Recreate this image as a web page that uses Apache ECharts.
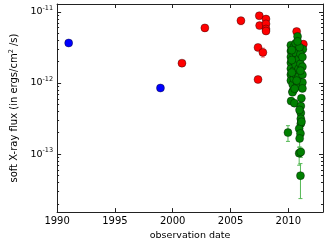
<!DOCTYPE html>
<html><head><meta charset="utf-8">
<script src="https://cdn.jsdelivr.net/npm/echarts@6/dist/echarts.min.js"></script>
<style>html,body{margin:0;padding:0;background:#fff}#c{width:327px;height:246px}</style>
</head><body><div id="c"></div>
<script>
// ---- data ----
const xTicks = [1990, 1995, 2000, 2005, 2010];
const yMajorTicks = [1e-13, 1e-12, 1e-11];
const yMinorTicks = [2e-14,3e-14,4e-14,5e-14,6e-14,7e-14,8e-14,9e-14,
  2e-13,3e-13,4e-13,5e-13,6e-13,7e-13,8e-13,9e-13,
  2e-12,3e-12,4e-12,5e-12,6e-12,7e-12,8e-12,9e-12];

const blueDates = [1991.0, 1998.94];
const blueFlux  = [3.65e-12, 8.5e-13];
const blueLo    = [3.4e-12, 7.9e-13];
const blueHi    = [3.9e-12, 9.1e-13];

const redDates = [2000.8, 2002.78, 2005.9, 2007.49, 2007.52, 2008.07, 2008.07, 2008.07, 2008.07, 2007.38, 2007.8, 2007.38, 2010.72, 2011.3];
const redFlux  = [1.9e-12, 5.95e-12, 7.52e-12, 8.81e-12, 6.41e-12, 7.93e-12, 6.77e-12, 5.74e-12, 5.38e-12, 3.16e-12, 2.69e-12, 1.12e-12, 5.3e-12, 3.51e-12];
const redLo    = [1.75e-12, 5.3e-12, 6.6e-12, 8.1e-12, 5.9e-12, 7.3e-12, 6.2e-12, 5.25e-12, 4.9e-12, 2.9e-12, 2.3e-12, 1.03e-12, 4.85e-12, 3.1e-12];
const redHi    = [2.05e-12, 6.6e-12, 8.4e-12, 9.5e-12, 6.9e-12, 8.6e-12, 7.3e-12, 6.2e-12, 5.85e-12, 3.45e-12, 3.1e-12, 1.22e-12, 5.75e-12, 3.95e-12];

const greenDates = [2010.80, 2011.26, 2010.22, 2010.22, 2010.22, 2010.22, 2010.22, 2010.22, 2010.22, 2010.38,
  2010.47, 2010.47, 2010.47, 2010.47, 2010.47, 2010.64, 2010.64, 2010.64, 2010.64, 2010.72,
  2010.94, 2010.89, 2010.89, 2010.89, 2011.05, 2011.05, 2011.22, 2011.22, 2011.22, 2011.22,
  2011.22, 2010.97, 2010.80, 2011.05, 2010.72, 2010.38, 2010.36, 2010.24, 2010.53, 2011.08,
  2011.08, 2011.08, 2011.08, 2010.94, 2011.13, 2010.97, 2011.14, 2011.05, 2010.98, 2010.94,
  2011.08, 2011.05, 2009.97, 2010.30, 2010.30, 2010.30, 2010.55];
const greenFlux = [4.52e-12, 2.99e-12, 3.40e-12, 2.81e-12, 2.32e-12, 1.92e-12, 1.585e-12, 1.31e-12, 1.08e-12, 9.53e-13,
  3.19e-12, 2.47e-12, 2.04e-12, 1.49e-12, 1.15e-12, 3.62e-12, 2.64e-12, 1.80e-12, 1.31e-12, 8.95e-13,
  9.53e-13, 2.18e-12, 1.585e-12, 1.23e-12, 2.55e-12, 1.86e-12, 2.32e-12, 1.69e-12, 1.31e-12, 1.02e-12,
  8.39e-13, 3.19e-12, 3.85e-12, 1.49e-12, 1.08e-12, 7.63e-13, 7.40e-13, 5.56e-13, 5.21e-13, 4.74e-13,
  3.80e-13, 3.14e-13, 2.68e-13, 2.28e-13, 6.11e-13, 4.18e-13, 2.85e-13, 1.95e-13, 1.66e-13, 1.03e-13,
  1.07e-13, 4.98e-14, 2.01e-13, 2.9e-12, 2.1e-12, 1.4e-12, 8.3e-13];
const greenLo = [4.2e-12, 2.75e-12, 3.15e-12, 2.6e-12, 2.15e-12, 1.77e-12, 1.46e-12, 1.2e-12, 0.99e-12, 8.7e-13,
  2.95e-12, 2.28e-12, 1.88e-12, 1.37e-12, 1.06e-12, 3.35e-12, 2.44e-12, 1.66e-12, 1.2e-12, 8.2e-13,
  8.7e-13, 2.0e-12, 1.46e-12, 1.13e-12, 2.35e-12, 1.71e-12, 2.14e-12, 1.56e-12, 1.2e-12, 0.94e-12,
  7.7e-13, 2.95e-12, 3.55e-12, 1.37e-12, 0.99e-12, 7.0e-13, 6.8e-13, 5.1e-13, 4.8e-13, 4.35e-13,
  3.5e-13, 2.9e-13, 2.45e-13, 2.08e-13, 5.6e-13, 3.85e-13, 2.6e-13, 1.75e-13, 1.26e-13, 6.98e-14,
  9.0e-14, 2.37e-14, 1.51e-13, 2.68e-12, 1.94e-12, 1.29e-12, 7.6e-13];
const greenHi = [4.85e-12, 3.25e-12, 3.65e-12, 3.05e-12, 2.5e-12, 2.08e-12, 1.71e-12, 1.42e-12, 1.17e-12, 1.04e-12,
  3.45e-12, 2.67e-12, 2.2e-12, 1.61e-12, 1.25e-12, 3.9e-12, 2.85e-12, 1.95e-12, 1.42e-12, 9.7e-13,
  1.04e-12, 2.36e-12, 1.71e-12, 1.33e-12, 2.75e-12, 2.01e-12, 2.5e-12, 1.83e-12, 1.42e-12, 1.1e-12,
  9.1e-13, 3.45e-12, 4.15e-12, 1.61e-12, 1.17e-12, 8.3e-13, 8.0e-13, 6.0e-13, 5.65e-13, 5.15e-13,
  4.1e-13, 3.4e-13, 2.9e-13, 2.5e-13, 6.6e-13, 4.5e-13, 3.1e-13, 2.15e-13, 2.0e-13, 1.25e-13,
  1.22e-13, 7.35e-14, 2.51e-13, 3.12e-12, 2.26e-12, 1.51e-12, 9.0e-13];

// ---- chart ----
const FONT = 'DejaVu Sans';
const AX = '#222';
const X_MIN = 1990, X_MAX = 2013, Y_MIN = 1.53e-14, Y_MAX = 1.29e-11;

function pts(d, f) { return d.map((v, i) => [v, f[i]]); }
function errs(d, lo, hi) { return d.map((v, i) => [v, lo[i], hi[i]]); }

function errRender(color) {
  return function (params, api) {
    const x = api.value(0);
    const p1 = api.coord([x, api.value(1)]);
    const p2 = api.coord([x, api.value(2)]);
    const st = { stroke: color, lineWidth: 1 };
    const c = 2;
    return { type: 'group', children: [
      { type: 'line', shape: { x1: p1[0], y1: p1[1], x2: p2[0], y2: p2[1] }, style: st },
      { type: 'line', shape: { x1: p1[0] - c, y1: p1[1], x2: p1[0] + c, y2: p1[1] }, style: st },
      { type: 'line', shape: { x1: p2[0] - c, y1: p2[1], x2: p2[0] + c, y2: p2[1] }, style: st }
    ]};
  };
}

function scatter(data, color) {
  return { type: 'scatter', xAxisIndex: 0, yAxisIndex: 0, data: data, symbolSize: 8,
    itemStyle: { color: color, opacity: 1, borderColor: 'rgba(0,0,0,0.75)', borderWidth: 0.5 },
    emphasis: { disabled: true }, animation: false };
}
function errSeries(data, color) {
  return { type: 'custom', xAxisIndex: 0, yAxisIndex: 0, data: data,
    encode: { x: 0, y: [1, 2] }, renderItem: errRender(color), animation: false, silent: true };
}

const tickInside = (len, vals) => ({ show: true, inside: true, length: len, lineStyle: { color: AX, width: 1 }, customValues: vals });

const chart = echarts.init(document.getElementById('c'), null, { renderer: 'canvas' });
chart.setOption({
  animation: false,
  grid: { left: 48, right: 4, top: 4, bottom: 30 },
  xAxis: [
    { type: 'value', min: X_MIN, max: X_MAX, interval: 5, position: 'bottom',
      axisLine: { show: true, lineStyle: { color: AX, width: 1 } },
      axisTick: { show: true, inside: true, length: 4, lineStyle: { color: AX }, customValues: xTicks },
      axisLabel: { show: true, margin: 4, fontFamily: FONT, fontSize: 10, color: '#000', customValues: xTicks,
        formatter: function (v) { return String(v); } },
      splitLine: { show: false },
      name: 'observation date', nameLocation: 'middle', nameGap: 14,
      nameTextStyle: { fontFamily: FONT, fontSize: 9.5, color: '#000' } },
    { type: 'value', min: X_MIN, max: X_MAX, interval: 5, position: 'top',
      axisLine: { show: true, lineStyle: { color: AX, width: 1 } },
      axisTick: { show: true, inside: true, length: 4, lineStyle: { color: AX }, customValues: xTicks },
      axisLabel: { show: false }, splitLine: { show: false } }
  ],
  yAxis: [
    { type: 'log', logBase: 10, min: Y_MIN, max: Y_MAX, position: 'left',
      axisLine: { show: true, lineStyle: { color: AX, width: 1 } },
      axisTick: tickInside(4, yMajorTicks),
      axisLabel: { show: true, margin: 4, customValues: yMajorTicks,
        formatter: function (v) { return '{b|10}{s|' + Math.round(Math.log10(v)) + '}'; },
        rich: {
          b: { fontFamily: FONT, fontSize: 9.5, color: '#000', verticalAlign: 'middle' },
          s: { fontFamily: FONT, fontSize: 6.5, color: '#000', verticalAlign: 'middle', padding: [0, 0, 7, 0] }
        } },
      splitLine: { show: false },
      name: 'soft X-ray flux (in ergs/cm{s|2} /s)', nameLocation: 'middle', nameGap: 35,
      nameTextStyle: { fontFamily: FONT, fontSize: 10, color: '#000',
        rich: { s: { fontFamily: FONT, fontSize: 6.5, color: '#000', padding: [0, 0, 6, 0] } } } },
    { type: 'log', logBase: 10, min: Y_MIN, max: Y_MAX, position: 'left',
      axisLine: { show: false }, axisTick: tickInside(2, yMinorTicks),
      axisLabel: { show: false }, splitLine: { show: false } },
    { type: 'log', logBase: 10, min: Y_MIN, max: Y_MAX, position: 'right',
      axisLine: { show: true, lineStyle: { color: AX, width: 1 } }, axisTick: tickInside(4, yMajorTicks),
      axisLabel: { show: false }, splitLine: { show: false } },
    { type: 'log', logBase: 10, min: Y_MIN, max: Y_MAX, position: 'right',
      axisLine: { show: false }, axisTick: tickInside(2, yMinorTicks),
      axisLabel: { show: false }, splitLine: { show: false } }
  ],
  series: [
    errSeries(errs(blueDates, blueLo, blueHi), '#6f6fff'),
    scatter(pts(blueDates, blueFlux), '#0000ff'),
    errSeries(errs(redDates, redLo, redHi), '#ff8c8c'),
    scatter(pts(redDates, redFlux), '#ff0000'),
    errSeries(errs(greenDates, greenLo, greenHi), '#55b855'),
    scatter(pts(greenDates, greenFlux), '#008000')
  ]
});
</script></body></html>
